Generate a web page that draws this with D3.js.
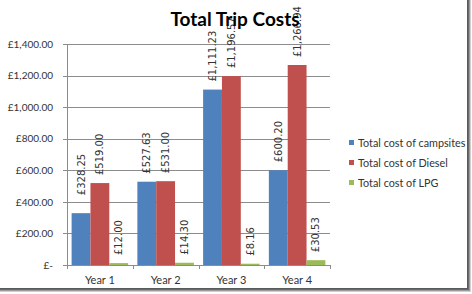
<!DOCTYPE html>
<html>
<head>
<meta charset="utf-8">
<script src="https://cdn.jsdelivr.net/npm/d3@7"></script>
<style>
  html, body { margin: 0; padding: 0; background: #fff; }
  svg { display: block; }
</style>
</head>
<body>
<svg id="chart" width="472" height="294"></svg>
<script>
const categories = ["Year 1", "Year 2", "Year 3", "Year 4"];
const seriesNames = ["Total cost of campsites", "Total cost of Diesel", "Total cost of LPG"];
const campsites = [328.25, 527.63, 1111.23, 600.20];
const diesel = [519.00, 531.00, 1196.57, 1266.94];
const lpg = [12.00, 14.30, 8.16, 30.53];
const yTicks = [0, 200, 400, 600, 800, 1000, 1200, 1400];
const colors = ["#4F81BD", "#C0504D", "#9BBB59"];
const title = "Total Trip Costs";

const series = [campsites, diesel, lpg];
const svg = d3.select("#chart");
const W = 472, H = 294;
const plot = { left: 67, right: 330, top: 44, bottom: 265 };

// frame with shadow
svg.append("rect").attr("x", 0).attr("y", 0).attr("width", W).attr("height", H).attr("fill", "#fff");
const shadow = [["#5a5a5a", 0], ["#6a6a6a", 1], ["#9a9a9a", 2], ["#cfcfcf", 3]];
shadow.forEach(([c, o]) => {
  svg.append("line").attr("x1", 467.5 + o).attr("x2", 467.5 + o).attr("y1", 0).attr("y2", 289 + o)
    .attr("stroke", c).attr("stroke-width", 1);
  svg.append("line").attr("x1", 0).attr("x2", 468 + o).attr("y1", 288.5 + o).attr("y2", 288.5 + o)
    .attr("stroke", c).attr("stroke-width", 1);
});

const x0 = d3.scaleBand().domain(categories).range([plot.left, plot.right]).paddingInner(0).paddingOuter(0);
const x1 = d3.scaleBand().domain(d3.range(series.length)).range([0, x0.bandwidth()]).paddingOuter(0.245).paddingInner(0);
const y = d3.scaleLinear().domain([0, 1400]).range([plot.bottom, plot.top]);

const fmt = v => v === 0 ? "£-" : "£" + d3.format(",.2f")(v);

// gridlines
const yAxis = d3.axisLeft(y).tickValues(yTicks).tickFormat(fmt).tickSize(-(plot.right - plot.left)).tickPadding(14);
const gy = svg.append("g").attr("transform", `translate(${plot.left},0)`).call(yAxis);
gy.select(".domain").remove();
gy.selectAll(".tick line").attr("stroke", "#8c8c8c").attr("shape-rendering", "crispEdges");
gy.selectAll(".tick text").attr("font-family", "Lato, 'Open Sans', sans-serif").attr("font-size", 10).attr("fill", "#333");
// small left tick marks
gy.selectAll(".tick").append("line").attr("x1", -4).attr("x2", 0).attr("stroke", "#8c8c8c").attr("shape-rendering", "crispEdges");

// y axis line
svg.append("line").attr("x1", plot.left + 0.5).attr("x2", plot.left + 0.5).attr("y1", plot.top).attr("y2", plot.bottom)
  .attr("stroke", "#8c8c8c");

// bars
const groups = svg.append("g").selectAll("g").data(categories).join("g")
  .attr("transform", d => `translate(${x0(d)},0)`);
groups.each(function(cat, ci) {
  const g = d3.select(this);
  series.forEach((s, si) => {
    const v = s[ci];
    g.append("rect")
      .attr("x", x1(si)).attr("width", x1.bandwidth())
      .attr("y", y(v)).attr("height", y(0) - y(v))
      .attr("fill", colors[si]);
    const cx = x1(si) + x1.bandwidth() / 2;
    const nudge = (si === 0 && ci === 0) ? 18 : 8;
    const ly = y(v) - nudge;
    g.append("text")
      .attr("transform", `translate(${cx},${ly}) rotate(-90)`)
      .attr("text-anchor", "start")
      .attr("dominant-baseline", "central")
      .attr("font-family", "'DejaVu Sans', sans-serif")
      .attr("font-size", 10)
      .attr("fill", "#333")
      .text(fmt(v));
  });
});

// x axis
const xAxis = d3.axisBottom(x0).tickSize(0).tickPadding(11);
const gx = svg.append("g").attr("transform", `translate(0,${plot.bottom})`).call(xAxis);
gx.select(".domain").attr("stroke", "#8c8c8c");
gx.selectAll(".tick text").attr("font-family", "Lato, 'Open Sans', sans-serif").attr("font-size", 11).attr("fill", "#333");
const bounds = categories.map(c => x0(c)).concat([x0(categories[categories.length - 1]) + x0.bandwidth()]);
svg.append("g").selectAll("line").data(bounds).join("line")
  .attr("x1", d => Math.round(d) + 0.5).attr("x2", d => Math.round(d) + 0.5)
  .attr("y1", plot.bottom).attr("y2", plot.bottom + 4)
  .attr("stroke", "#8c8c8c");

// title
svg.append("text").attr("x", 235).attr("y", 26).attr("text-anchor", "middle")
  .attr("font-family", "Lato, sans-serif").attr("font-weight", "bold").attr("font-size", 19)
  .attr("fill", "#000").text(title);

// legend
const lg = svg.append("g").selectAll("g").data(seriesNames).join("g")
  .attr("transform", (d, i) => `translate(349,${142.5 + i * 20})`);
lg.append("rect").attr("x", 0).attr("y", -2.5).attr("width", 5).attr("height", 5).attr("fill", (d, i) => colors[i]);
lg.append("text").attr("x", 9).attr("y", 0).attr("dominant-baseline", "central")
  .attr("font-family", "Lato, 'Open Sans', sans-serif").attr("font-size", 10.8).attr("fill", "#333")
  .text(d => d);
</script>
</body>
</html>
